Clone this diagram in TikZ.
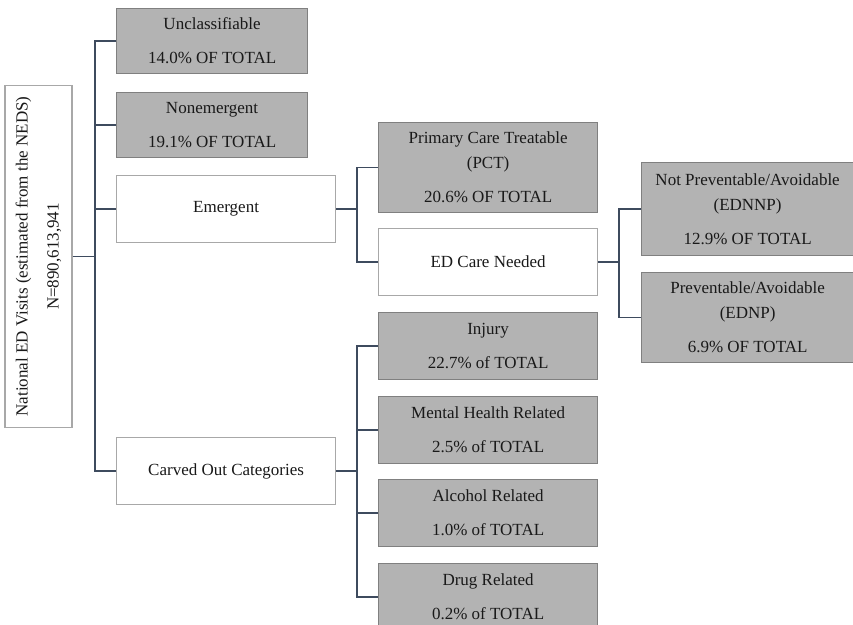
\documentclass[tikz,border=0pt]{standalone}
\usepackage{fontspec}
\setmainfont{Liberation Serif}
\definecolor{boxgray}{HTML}{B3B3B3}
\definecolor{boxedge}{HTML}{808080}
\definecolor{wedge}{HTML}{A8A8A8}
\definecolor{linecol}{HTML}{3E4B5E}
\begin{document}
\begin{tikzpicture}[x=1pt,y=-1pt,
  gbox/.style={draw=boxedge, fill=boxgray, line width=1.2pt, align=center, inner sep=0pt,
    anchor=north west, text=black!90, font=\fontsize{17}{25}\selectfont},
  wbox/.style={gbox, fill=white, draw=wedge},
  conn/.style={draw=linecol, line width=1.6pt}]
\useasboundingbox (0,0) rectangle (853,624);
\clip (0,0) rectangle (853,624);
% root
\node[wbox, anchor=center, rotate=90, minimum width=342pt, minimum height=67pt] (root) at (38.5,256.5)
  {National ED Visits (estimated from the NEDS)\\[6pt]N=890,613,941};
% first level
\node[gbox, minimum width=191pt, minimum height=65pt] (uncl) at (116,8) {Unclassifiable\\[9pt]14.0\% OF TOTAL};
\node[gbox, minimum width=191pt, minimum height=65pt] (nonem) at (116,92) {Nonemergent\\[9pt]19.1\% OF TOTAL};
\node[wbox, minimum width=219pt, minimum height=67pt] (emerg) at (116,175) {Emergent};
\node[wbox, minimum width=219pt, minimum height=67pt] (carved) at (116,437) {Carved Out Categories};
% emergent children
\node[gbox, minimum width=219pt, minimum height=90pt] (pct) at (378,122) {Primary Care Treatable\\(PCT)\\[9pt]20.6\% OF TOTAL};
\node[wbox, minimum width=219pt, minimum height=67pt] (edcare) at (378,228) {ED Care Needed};
% ED care children
\node[gbox, minimum width=212pt, minimum height=93pt] (ednnp) at (641,162) {Not Preventable/Avoidable\\(EDNNP)\\[9pt]12.9\% OF TOTAL};
\node[gbox, minimum width=212pt, minimum height=90pt] (ednp) at (641,272) {Preventable/Avoidable\\(EDNP)\\[9pt]6.9\% OF TOTAL};
% carved out children
\node[gbox, minimum width=219pt, minimum height=67pt] (injury) at (378,312) {Injury\\[9pt]22.7\% of TOTAL};
\node[gbox, minimum width=219pt, minimum height=67pt] (mental) at (378,396) {Mental Health Related\\[9pt]2.5\% of TOTAL};
\node[gbox, minimum width=219pt, minimum height=67pt] (alcohol) at (378,479) {Alcohol Related\\[9pt]1.0\% of TOTAL};
\node[gbox, minimum width=219pt, minimum height=67pt] (drug) at (378,563) {Drug Related\\[9pt]0.2\% of TOTAL};
% connectors
\draw[conn] (root.south) -- ++(23,0);
\draw[conn] (uncl.west) -- ++(-21,0) |- (carved.west);
\draw[conn] (nonem.west) -- ++(-21,0);
\draw[conn] (emerg.west) -- ++(-21,0);
\draw[conn] (emerg.east) -- ++(22,0);
\draw[conn] (pct.west) -- ++(-21,0) |- (edcare.west);
\draw[conn] (edcare.east) -- ++(22,0);
\draw[conn] (ednnp.west) -- ++(-22,0) |- (ednp.west);
\draw[conn] (carved.east) -- ++(22,0);
\draw[conn] (injury.west) -- ++(-21,0) |- (drug.west);
\draw[conn] (mental.west) -- ++(-21,0);
\draw[conn] (alcohol.west) -- ++(-21,0);
\end{tikzpicture}
\end{document}
